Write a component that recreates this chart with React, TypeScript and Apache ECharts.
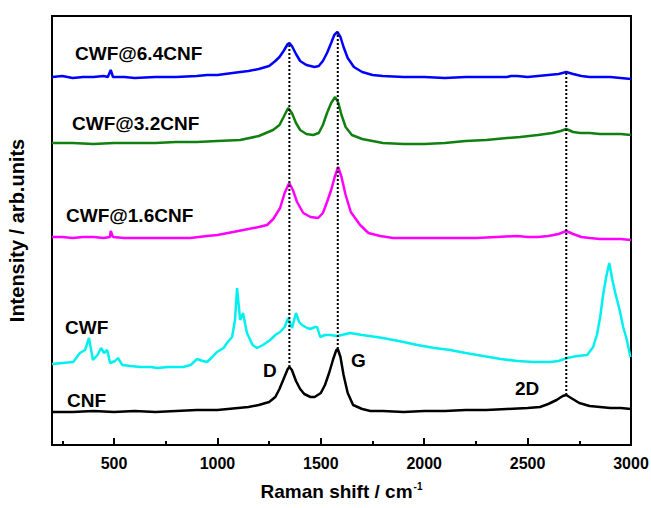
import React, { useEffect, useRef } from "react";
import * as echarts from "echarts";

// Raman spectra (wavenumber, offset intensity in arbitrary units)
const cnf: [number, number][] = [
  [200, 33], [300, 33], [400, 34], [500, 33], [600, 34], [700, 33], [800, 34], [900, 35],
  [1000, 35], [1100, 37], [1150, 38], [1200, 40], [1250, 43], [1280, 48], [1300, 56],
  [1320, 66], [1340, 76], [1348, 78], [1360, 75], [1380, 64], [1400, 56], [1420, 51],
  [1450, 48], [1470, 48], [1500, 52], [1520, 60], [1540, 72], [1560, 86], [1575, 95],
  [1582, 96], [1595, 88], [1610, 70], [1630, 52], [1656, 40], [1700, 36], [1740, 34],
  [1800, 34], [1900, 33], [2000, 34], [2100, 34], [2200, 35], [2300, 35], [2400, 36],
  [2500, 37], [2560, 38], [2600, 41], [2640, 45], [2670, 49], [2687, 50], [2710, 47],
  [2750, 42], [2800, 39], [2850, 38], [2900, 37], [2950, 37], [3000, 36],
];

const cwf: [number, number][] = [
  [200, 81], [250, 82], [303, 83], [335, 92], [360, 95], [379, 107], [398, 85], [420, 90],
  [437, 97], [452, 92], [467, 95], [481, 82], [505, 84], [519, 87], [540, 80], [580, 79],
  [626, 78], [680, 78], [708, 77], [760, 78], [834, 78], [870, 80], [902, 86], [930, 84],
  [950, 83], [975, 88], [998, 93], [1030, 97], [1046, 102], [1071, 108], [1085, 125],
  [1095, 157], [1103, 140], [1110, 125], [1124, 132], [1135, 120], [1143, 112], [1170, 100],
  [1192, 97], [1220, 100], [1255, 105], [1280, 110], [1303, 113], [1325, 118], [1342, 127],
  [1361, 117], [1380, 132], [1395, 123], [1409, 120], [1434, 117], [1450, 116], [1472, 118],
  [1482, 118], [1497, 108], [1520, 110], [1545, 110], [1580, 109], [1642, 112], [1700, 110],
  [1801, 107], [1900, 103], [1966, 100], [2050, 97], [2125, 95], [2200, 92], [2285, 89],
  [2370, 86], [2450, 84], [2530, 83], [2609, 83], [2650, 84], [2691, 87], [2740, 89],
  [2788, 90], [2817, 98], [2835, 110], [2851, 128], [2865, 150], [2880, 168], [2895, 182],
  [2910, 165], [2924, 152], [2945, 135], [2962, 118], [2980, 105], [2997, 88],
];

const cwf16: [number, number][] = [
  [200, 208], [250, 208], [300, 207], [350, 208], [400, 208], [450, 207], [480, 208],
  [484, 214], [495, 208], [550, 207], [600, 207], [700, 207], [800, 207], [868, 207],
  [950, 209], [1000, 210], [1076, 213], [1150, 216], [1200, 218], [1240, 220], [1270, 226],
  [1303, 237], [1325, 252], [1347, 262], [1365, 255], [1385, 243], [1415, 232], [1450, 228],
  [1487, 227], [1510, 232], [1530, 243], [1550, 255], [1567, 268], [1584, 278], [1600, 268],
  [1620, 250], [1645, 233], [1690, 220], [1730, 212], [1787, 209], [1850, 207], [1950, 207],
  [2050, 207], [2150, 207], [2250, 207], [2350, 208], [2450, 209], [2500, 208], [2550, 208],
  [2600, 209], [2650, 211], [2687, 214], [2720, 211], [2760, 208], [2800, 207], [2850, 206],
  [2900, 206], [2950, 206], [3000, 205],
];

const cwf32: [number, number][] = [
  [200, 302], [300, 302], [400, 301], [500, 302], [600, 302], [700, 302], [800, 303],
  [900, 303], [1000, 304], [1110, 305], [1200, 309], [1269, 315], [1300, 320], [1320, 328],
  [1342, 337], [1360, 332], [1380, 322], [1400, 315], [1430, 311], [1463, 310], [1490, 312],
  [1510, 320], [1530, 332], [1550, 342], [1569, 348], [1585, 342], [1600, 330], [1620, 318],
  [1650, 310], [1700, 306], [1750, 304], [1800, 302], [1900, 301], [2000, 301], [2100, 302],
  [2200, 304], [2300, 305], [2400, 307], [2464, 308], [2550, 310], [2620, 312], [2660, 314],
  [2687, 316], [2720, 313], [2755, 312], [2800, 312], [2850, 311], [2900, 311], [2950, 311],
  [3000, 310],
];

const cwf64: [number, number][] = [
  [200, 368], [250, 369], [300, 367], [350, 368], [400, 368], [450, 369], [470, 368],
  [484, 375], [495, 368], [550, 368], [600, 367], [700, 368], [800, 368], [900, 369],
  [950, 370], [1000, 370], [1110, 373], [1150, 374], [1200, 376], [1250, 379], [1280, 384],
  [1300, 388], [1320, 394], [1340, 401], [1348, 402], [1360, 399], [1380, 391], [1400, 384],
  [1430, 380], [1470, 378], [1490, 379], [1510, 384], [1530, 392], [1550, 402], [1565, 410],
  [1580, 413], [1595, 408], [1610, 398], [1630, 387], [1660, 378], [1700, 373], [1750, 370],
  [1800, 369], [1900, 368], [2000, 368], [2100, 367], [2200, 368], [2300, 368], [2400, 368],
  [2420, 369], [2450, 369], [2500, 368], [2550, 369], [2600, 370], [2650, 371], [2687, 373],
  [2720, 371], [2760, 369], [2800, 368], [2850, 368], [2900, 368], [2950, 367], [3000, 366],
];

// dotted guide lines: [wavenumber, bottom, top]
const guides: [number, number, number][] = [
  [1348, 78, 402],
  [1582, 96, 413],
  [2687, 50, 373],
];

const majorTicks = [500, 1000, 1500, 2000, 2500, 3000];
const minorTicks = [250, 750, 1250, 1750, 2250, 2750];

const FONT = "'Liberation Sans', Arial, sans-serif";

const curveLabels: { text: string; x: number; y: number }[] = [
  { text: "CWF@6.4CNF", x: 75, y: 53 },
  { text: "CWF@3.2CNF", x: 72, y: 123 },
  { text: "CWF@1.6CNF", x: 66, y: 215 },
  { text: "CWF", x: 65, y: 327 },
  { text: "CNF", x: 67, y: 400 },
  { text: "D", x: 263, y: 370 },
  { text: "G", x: 351, y: 360 },
  { text: "2D", x: 515, y: 388 },
];

export default function App() {
  const ref = useRef<HTMLDivElement>(null);
  useEffect(() => {
    if (!ref.current) return;
    document.body.style.margin = "0";
    const chart = echarts.init(ref.current, null, { renderer: "svg" });
    const lineSeries = (data: [number, number][], color: string) => ({
      type: "line",
      data,
      showSymbol: false,
      symbol: "none",
      lineStyle: { color, width: 2.5 },
      z: 3,
    });
    const guideSeries = guides.map((g) => ({
      type: "line",
      data: [
        [g[0], g[1]],
        [g[0], g[2]],
      ],
      showSymbol: false,
      symbol: "none",
      lineStyle: { color: "#000", width: 2, type: [2, 2], cap: "butt" },
      z: 4,
    }));
    chart.setOption({
      animation: false,
      backgroundColor: "#fff",
      grid: {
        left: 52,
        right: 20,
        top: 16,
        bottom: 63,
        show: true,
        borderColor: "#000",
        borderWidth: 2,
        containLabel: false,
        outerBoundsMode: "none",
      },
      xAxis: [
        {
          type: "value",
          min: 200,
          max: 3000,
          axisLine: { show: true, lineStyle: { color: "#000", width: 2 } },
          axisTick: {
            show: true,
            inside: true,
            length: 7,
            lineStyle: { color: "#000", width: 2 },
            customValues: majorTicks,
          },
          axisLabel: {
            customValues: majorTicks,
            formatter: (v: number) => String(v),
            color: "#000",
            fontSize: 16,
            fontWeight: "bold",
            fontFamily: FONT,
            margin: 10,
          },
          splitLine: { show: false },
          name: "{n|Raman shift / cm}{s|-1}",
          nameLocation: "middle",
          nameGap: 36,
          nameTextStyle: {
            rich: {
              n: { fontSize: 19, fontWeight: "bold", fontFamily: FONT, color: "#000" },
              s: {
                fontSize: 10,
                fontWeight: "bold",
                fontFamily: FONT,
                color: "#000",
                padding: [0, 0, 10, 1],
              },
            },
          },
        },
        {
          type: "value",
          min: 200,
          max: 3000,
          position: "bottom",
          axisLine: { show: false },
          axisTick: {
            show: true,
            inside: true,
            length: 4,
            lineStyle: { color: "#000", width: 2 },
            customValues: minorTicks,
          },
          axisLabel: { show: false },
          splitLine: { show: false },
        },
      ],
      yAxis: {
        type: "value",
        min: 0,
        max: 429,
        axisLine: { show: true, lineStyle: { color: "#000", width: 2 } },
        axisTick: { show: false },
        axisLabel: { show: false },
        splitLine: { show: false },
        name: "Intensity / arb.units",
        nameLocation: "middle",
        nameGap: 25,
        nameTextStyle: {
          fontSize: 20,
          fontWeight: "bold",
          fontFamily: FONT,
          color: "#000",
        },
      },
      series: [
        ...guideSeries,
        lineSeries(cnf, "#000000"),
        lineSeries(cwf, "#00f0f0"),
        lineSeries(cwf16, "#ff00ff"),
        lineSeries(cwf32, "#108010"),
        lineSeries(cwf64, "#0000ff"),
      ],
      graphic: curveLabels.map((l) => ({
        type: "text",
        x: l.x,
        y: l.y,
        z: 10,
        style: {
          text: l.text,
          fill: "#000",
          font: `bold 19px ${FONT}`,
          verticalAlign: "middle",
          align: "left",
        },
      })),
    });
    return () => chart.dispose();
  }, []);
  return <div ref={ref} style={{ width: 651, height: 508 }} />;
}
